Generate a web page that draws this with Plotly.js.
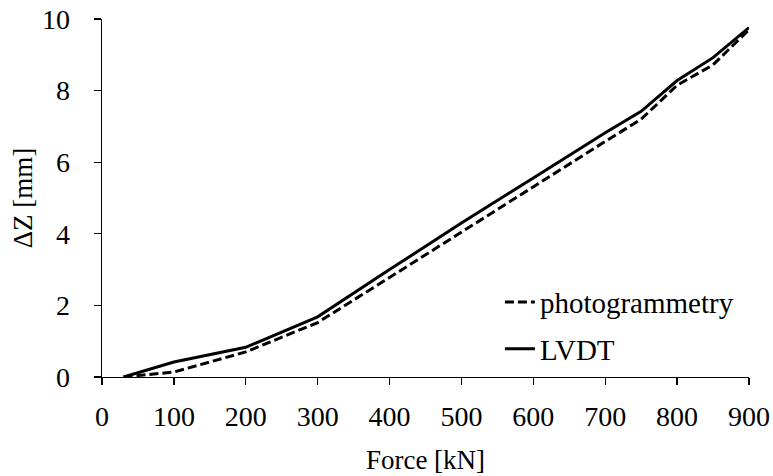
<!DOCTYPE html>
<html>
<head>
<meta charset="utf-8">
<script src="https://cdn.plot.ly/plotly-3.0.1.min.js"></script>
<style>html,body{margin:0;padding:0;background:#fff;}#chart{width:773px;height:476px;}</style>
</head>
<body>
<div id="chart"></div>
<script>
// Data
const forceKN = [30, 100, 200, 300, 400, 500, 600, 700, 750, 800, 850, 900];
const photogrammetry = [0, 0.14, 0.70, 1.52, 2.78, 4.05, 5.32, 6.58, 7.20, 8.15, 8.72, 9.70];
const lvdt = [0, 0.42, 0.83, 1.68, 3.00, 4.30, 5.56, 6.82, 7.42, 8.28, 8.92, 9.76];
const xTicks = [0, 100, 200, 300, 400, 500, 600, 700, 800, 900];
const yTicks = [0, 2, 4, 6, 8, 10];

const FONT = "'Liberation Serif', 'Times New Roman', Times, serif";

const traces = [
  {
    x: forceKN, y: photogrammetry, name: 'photogrammetry', mode: 'lines',
    legendgroup: 'a',
    line: {color: '#000', width: 3, dash: '9px,4px'}
  },
  {
    x: forceKN, y: lvdt, name: 'LVDT', mode: 'lines',
    legendgroup: 'b',
    line: {color: '#000', width: 3}
  }
];

const layout = {
  width: 773, height: 476,
  margin: {l: 102, r: 24, t: 19, b: 99},
  paper_bgcolor: '#fff', plot_bgcolor: '#fff',
  font: {family: FONT, size: 28, color: '#000'},
  showlegend: true,
  legend: {
    x: 0.615, y: 0.28, xanchor: 'left', yanchor: 'top',
    bgcolor: 'rgba(0,0,0,0)', borderwidth: 0,
    traceorder: 'grouped', tracegroupgap: 6,
    font: {family: FONT, size: 29, color: '#000'}
  },
  xaxis: {
    range: [0, 900], tickvals: xTicks, ticktext: xTicks.map(String),
    showgrid: false, zeroline: false,
    showline: true, linecolor: '#000', linewidth: 1.3,
    ticks: 'outside', ticklen: 7, tickwidth: 1.3, tickcolor: '#000',
    ticklabelstandoff: 7,
    tickfont: {family: FONT, size: 28, color: '#000'},
    title: {text: 'Force [kN]', font: {family: FONT, size: 27, color: '#000'}, standoff: 19}
  },
  yaxis: {
    range: [0, 10], tickvals: yTicks, ticktext: yTicks.map(String),
    showgrid: false, zeroline: false,
    showline: true, linecolor: '#000', linewidth: 1.3,
    ticks: 'outside', ticklen: 7, tickwidth: 1.3, tickcolor: '#000',
    ticklabelstandoff: 18,
    tickfont: {family: FONT, size: 28, color: '#000'},
    title: {text: 'ΔZ [mm]', font: {family: FONT, size: 27, color: '#000'}, standoff: 1}
  }
};

Plotly.newPlot('chart', traces, layout, {displayModeBar: false, staticPlot: true});
</script>
</body>
</html>
